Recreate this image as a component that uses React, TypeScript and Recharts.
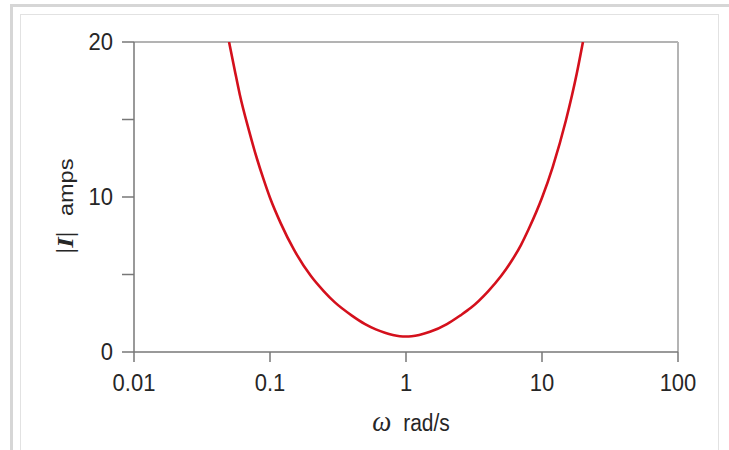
import React from "react"
import {
  LineChart,
  Line,
  XAxis,
  YAxis,
  ReferenceLine,
} from "recharts"

// angular frequency (rad/s) and current magnitude
const omega = [
  0.05, 0.055, 0.06, 0.07, 0.08, 0.09, 0.1, 0.12, 0.15, 0.2, 0.25, 0.3, 0.4,
  0.5, 0.6, 0.7, 0.8, 0.9, 1, 1.1, 1.25, 1.5, 2, 2.5, 3, 4, 5, 6, 7, 8, 10, 12,
  15, 18, 20,
]
const current = [
  20, 18.2, 16.6, 14.3, 12.5, 11.1, 9.95, 8.3, 6.6, 4.9, 3.9, 3.2, 2.35, 1.8,
  1.46, 1.24, 1.1, 1.02, 1, 1.02, 1.1, 1.3, 1.8, 2.35, 2.85, 3.9, 4.9, 5.9,
  6.9, 7.95, 9.95, 11.95, 14.95, 17.95, 20,
]
const xTicks = [0.01, 0.1, 1, 10, 100]
const yTicks = [0, 5, 10, 15, 20]
const yLabelled = [0, 10, 20]

const data = omega.map((w, i) => ({ w, amps: current[i] }))

const SANS = "'Liberation Sans', Arial, sans-serif"
const SERIF = "'Liberation Serif', 'DejaVu Serif', serif"
const STRETCH = 1.12

// the reference text is a bit taller than it is wide
function stretch(y: number) {
  return `matrix(1 0 0 ${STRETCH} 0 ${-(STRETCH - 1) * y})`
}

const XTick = (props: any) => {
  const { x, y, payload } = props
  const by = y + 27
  return (
    <text
      x={x}
      y={by}
      textAnchor="middle"
      fontSize={22}
      fontFamily={SANS}
      fill="#262626"
      transform={stretch(by)}
    >
      {payload.value}
    </text>
  )
}

const YTick = (props: any) => {
  const { x, y, payload } = props
  if (!yLabelled.includes(payload.value)) return <g />
  const by = y + 8
  return (
    <text
      x={x - 7}
      y={by}
      textAnchor="end"
      fontSize={22}
      fontFamily={SANS}
      fill="#262626"
      transform={stretch(by)}
    >
      {payload.value}
    </text>
  )
}

const XLabel = (props: any) => {
  const { viewBox } = props
  const cx = viewBox.x + viewBox.width / 2 + 5
  const by = 431
  return (
    <text
      x={cx}
      y={by}
      textAnchor="middle"
      fontSize={21}
      fill="#262626"
      fontFamily={SANS}
      transform={stretch(by)}
    >
      <tspan fontFamily={SERIF} fontStyle="italic" fontSize={27}>
        ω
      </tspan>
      <tspan dx={12}>rad/s</tspan>
    </text>
  )
}

const YLabel = () => {
  const cx = 73
  const cy = 206
  return (
    <text
      x={0}
      y={0}
      textAnchor="middle"
      fontSize={21}
      fill="#262626"
      fontFamily={SANS}
      transform={`translate(${cx} ${cy}) rotate(-90) scale(${STRETCH} 1)`}
    >
      <tspan fontFamily={SERIF} fontSize={25}>|</tspan>
      <tspan fontFamily={SERIF} fontStyle="italic" fontWeight="bold" fontSize={24}>
        I
      </tspan>
      <tspan fontFamily={SERIF} fontSize={25}>|</tspan>
      <tspan dx={14}>amps</tspan>
    </text>
  )
}

export default function App() {
  return (
    <div
      style={{
        position: "fixed",
        left: 0,
        top: 0,
        width: 729,
        height: 450,
        background: "#fff",
        overflow: "hidden",
      }}
    >
      <div
        style={{
          position: "absolute",
          left: 10,
          top: 4,
          width: 740,
          height: 460,
          border: "3px solid #d6d6d6",
          boxSizing: "border-box",
        }}
      />
      <div
        style={{
          position: "absolute",
          left: 20,
          top: 14,
          width: 699,
          height: 450,
          border: "1px solid #e2e2e2",
          boxSizing: "border-box",
        }}
      />
      <div style={{ position: "absolute", left: 0, top: 0 }}>
        <LineChart
          width={729}
          height={450}
          data={data}
          margin={{ top: 42, right: 51, bottom: 38, left: 54 }}
        >
          <ReferenceLine y={20} stroke="#9a9a9a" strokeWidth={1.5} />
          <ReferenceLine x={100} stroke="#b4b4b4" strokeWidth={2} />
          <XAxis
            dataKey="w"
            type="number"
            scale="log"
            domain={[0.01, 100]}
            ticks={xTicks}
            allowDataOverflow
            height={60}
            tickSize={10}
            tickMargin={2}
            stroke="#777"
            strokeWidth={1.5}
            tick={<XTick />}
            label={<XLabel />}
          />
          <YAxis
            type="number"
            domain={[0, 20]}
            ticks={yTicks}
            allowDataOverflow
            width={80}
            tickSize={12}
            tickMargin={2}
            stroke="#777"
            strokeWidth={1.5}
            tick={<YTick />}
            label={<YLabel />}
          />
          <Line
            type="monotone"
            dataKey="amps"
            stroke="#d4101c"
            strokeWidth={2.6}
            dot={false}
            isAnimationActive={false}
          />
        </LineChart>
      </div>
    </div>
  )
}
